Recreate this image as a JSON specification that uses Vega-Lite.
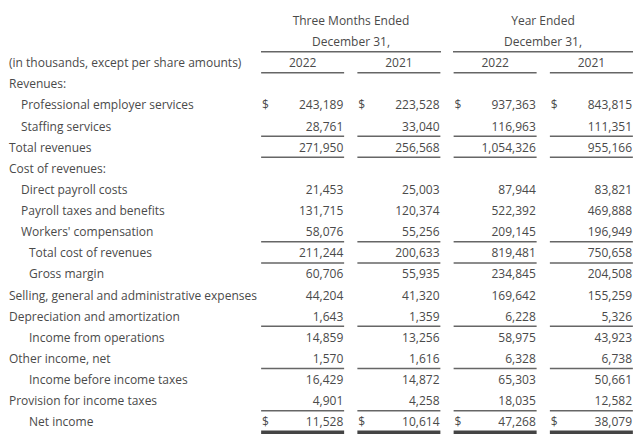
{
  "$schema": "https://vega.github.io/schema/vega-lite/v6.json",
  "width": 640,
  "height": 434,
  "autosize": {"type": "fit", "contains": "padding"},
  "padding": 0,
  "background": "white",
  "config": {
    "view": {"stroke": null},
    "axis": {"disable": true},
    "text": {"font": "Open Sans", "fontSize": 12, "color": "#4a4a4a", "baseline": "middle", "dy": 1}
  },
  "datasets": {
    "rows": [
      {"r": 2, "level": 0, "label": "(in thousands, except per share amounts)"},
      {"r": 3, "level": 0, "label": "Revenues:"},
      {"r": 4, "level": 1, "label": "Professional employer services", "dollar": true, "q22": 243189, "q21": 223528, "y22": 937363, "y21": 843815},
      {"r": 5, "level": 1, "label": "Staffing services", "q22": 28761, "q21": 33040, "y22": 116963, "y21": 111351},
      {"r": 6, "level": 0, "label": "Total revenues", "q22": 271950, "q21": 256568, "y22": 1054326, "y21": 955166},
      {"r": 7, "level": 0, "label": "Cost of revenues:"},
      {"r": 8, "level": 1, "label": "Direct payroll costs", "q22": 21453, "q21": 25003, "y22": 87944, "y21": 83821},
      {"r": 9, "level": 1, "label": "Payroll taxes and benefits", "q22": 131715, "q21": 120374, "y22": 522392, "y21": 469888},
      {"r": 10, "level": 1, "label": "Workers' compensation", "q22": 58076, "q21": 55256, "y22": 209145, "y21": 196949},
      {"r": 11, "level": 2, "label": "Total cost of revenues", "q22": 211244, "q21": 200633, "y22": 819481, "y21": 750658},
      {"r": 12, "level": 2, "label": "Gross margin", "q22": 60706, "q21": 55935, "y22": 234845, "y21": 204508},
      {"r": 13, "level": 0, "label": "Selling, general and administrative expenses", "q22": 44204, "q21": 41320, "y22": 169642, "y21": 155259},
      {"r": 14, "level": 0, "label": "Depreciation and amortization", "q22": 1643, "q21": 1359, "y22": 6228, "y21": 5326},
      {"r": 15, "level": 2, "label": "Income from operations", "q22": 14859, "q21": 13256, "y22": 58975, "y21": 43923},
      {"r": 16, "level": 0, "label": "Other income, net", "q22": 1570, "q21": 1616, "y22": 6328, "y21": 6738},
      {"r": 17, "level": 2, "label": "Income before income taxes", "q22": 16429, "q21": 14872, "y22": 65303, "y21": 50661},
      {"r": 18, "level": 0, "label": "Provision for income taxes", "q22": 4901, "q21": 4258, "y22": 18035, "y21": 12582},
      {"r": 19, "level": 2, "label": "Net income", "dollar": true, "q22": 11528, "q21": 10614, "y22": 47268, "y21": 38079}
    ],
    "heads": [
      {"grp": "Q", "r": 0, "text": "Three Months Ended"},
      {"grp": "Q", "r": 1, "text": "December 31,"},
      {"grp": "Y", "r": 0, "text": "Year Ended"},
      {"grp": "Y", "r": 1, "text": "December 31,"}
    ],
    "years": [
      {"col": "q22", "r": 2, "text": "2022"},
      {"col": "q21", "r": 2, "text": "2021"},
      {"col": "y22", "r": 2, "text": "2022"},
      {"col": "y21", "r": 2, "text": "2021"}
    ],
    "lines": [
      {"after": 2, "col": ["q22", "q21", "y22", "y21"]},
      {"after": 5, "col": ["q22", "q21", "y22", "y21"]},
      {"after": 6, "col": ["q22", "q21", "y22", "y21"]},
      {"after": 10, "col": ["q22", "q21", "y22", "y21"]},
      {"after": 11, "col": ["q22", "q21", "y22", "y21"]},
      {"after": 14, "col": ["q22", "q21", "y22", "y21"]},
      {"after": 16, "col": ["q22", "q21", "y22", "y21"]},
      {"after": 18, "col": ["q22", "q21", "y22", "y21"]}
    ],
    "finals": [
      {"after": 19, "col": ["q22", "q21", "y22", "y21"]}
    ],
    "grouplines": [
      {"after": 1, "grp": "Q"},
      {"after": 1, "grp": "Y"}
    ]
  },
  "resolve": {"scale": {"x": "independent"}},
  "layer": [
    {
      "data": {"name": "heads"},
      "mark": {"type": "text", "align": "center"},
      "encoding": {
        "x": {"field": "grp", "type": "nominal", "scale": {"type": "band", "domain": ["Q", "Y"], "range": [261, 633], "paddingInner": 0.0625, "paddingOuter": 0}},
        "y": {"field": "r", "type": "quantitative", "scale": {"domain": [-0.947, 19.602], "range": [0, 434], "zero": false, "nice": false}},
        "text": {"field": "text"}
      }
    },
    {
      "data": {"name": "grouplines"},
      "mark": {"type": "tick", "orient": "horizontal", "size": 180, "thickness": 1.5, "color": "#666", "opacity": 1, "yOffset": 10.56},
      "encoding": {
        "x": {"field": "grp", "type": "nominal", "scale": {"type": "band", "domain": ["Q", "Y"], "range": [261, 633], "paddingInner": 0.0625, "paddingOuter": 0}},
        "y": {"field": "after", "type": "quantitative", "scale": {"domain": [-0.947, 19.602], "range": [0, 434], "zero": false, "nice": false}}
      }
    },
    {
      "data": {"name": "years"},
      "mark": {"type": "text", "align": "center"},
      "encoding": {
        "x": {"field": "col", "type": "nominal", "scale": {"type": "band", "domain": ["q22", "q21", "y22", "y21"], "range": [261, 633], "paddingInner": 0.135, "paddingOuter": 0}},
        "y": {"field": "r", "type": "quantitative", "scale": {"domain": [-0.947, 19.602], "range": [0, 434], "zero": false, "nice": false}},
        "text": {"field": "text"}
      }
    },
    {
      "data": {"name": "lines"},
      "transform": [{"flatten": ["col"]}],
      "mark": {"type": "tick", "orient": "horizontal", "size": 83, "thickness": 1.5, "color": "#666", "opacity": 1, "yOffset": 10.56},
      "encoding": {
        "x": {"field": "col", "type": "nominal", "scale": {"type": "band", "domain": ["q22", "q21", "y22", "y21"], "range": [261, 633], "paddingInner": 0.135, "paddingOuter": 0}},
        "y": {"field": "after", "type": "quantitative", "scale": {"domain": [-0.947, 19.602], "range": [0, 434], "zero": false, "nice": false}}
      }
    },
    {
      "data": {"name": "finals"},
      "transform": [{"flatten": ["col"]}],
      "mark": {"type": "tick", "orient": "horizontal", "size": 83, "thickness": 3.5, "color": "#444", "opacity": 1, "yOffset": 10.9},
      "encoding": {
        "x": {"field": "col", "type": "nominal", "scale": {"type": "band", "domain": ["q22", "q21", "y22", "y21"], "range": [261, 633], "paddingInner": 0.135, "paddingOuter": 0}},
        "y": {"field": "after", "type": "quantitative", "scale": {"domain": [-0.947, 19.602], "range": [0, 434], "zero": false, "nice": false}}
      }
    },
    {
      "data": {"name": "rows"},
      "mark": {"type": "text", "align": "left"},
      "encoding": {
        "x": {"field": "level", "type": "quantitative", "scale": {"domain": [0, 1, 2], "range": [9, 21, 29], "zero": false, "nice": false}},
        "y": {"field": "r", "type": "quantitative", "scale": {"domain": [-0.947, 19.602], "range": [0, 434], "zero": false, "nice": false}},
        "text": {"field": "label"}
      }
    },
    {
      "data": {"name": "rows"},
      "transform": [
        {"fold": ["q22", "q21", "y22", "y21"], "as": ["col", "val"]},
        {"filter": "isValid(datum.val)"}
      ],
      "mark": {"type": "text", "align": "right", "dx": -1},
      "encoding": {
        "x": {"field": "col", "type": "nominal", "bandPosition": 1, "scale": {"type": "band", "domain": ["q22", "q21", "y22", "y21"], "range": [261, 633], "paddingInner": 0.135, "paddingOuter": 0}},
        "y": {"field": "r", "type": "quantitative", "scale": {"domain": [-0.947, 19.602], "range": [0, 434], "zero": false, "nice": false}},
        "text": {"field": "val", "type": "quantitative", "format": ",d"}
      }
    },
    {
      "data": {"name": "rows"},
      "transform": [
        {"filter": "datum.dollar"},
        {"fold": ["q22", "q21", "y22", "y21"], "as": ["col", "val"]}
      ],
      "mark": {"type": "text", "align": "left", "dx": 1},
      "encoding": {
        "x": {"field": "col", "type": "nominal", "bandPosition": 0, "scale": {"type": "band", "domain": ["q22", "q21", "y22", "y21"], "range": [261, 633], "paddingInner": 0.135, "paddingOuter": 0}},
        "y": {"field": "r", "type": "quantitative", "scale": {"domain": [-0.947, 19.602], "range": [0, 434], "zero": false, "nice": false}},
        "text": {"value": "$"}
      }
    }
  ]
}
